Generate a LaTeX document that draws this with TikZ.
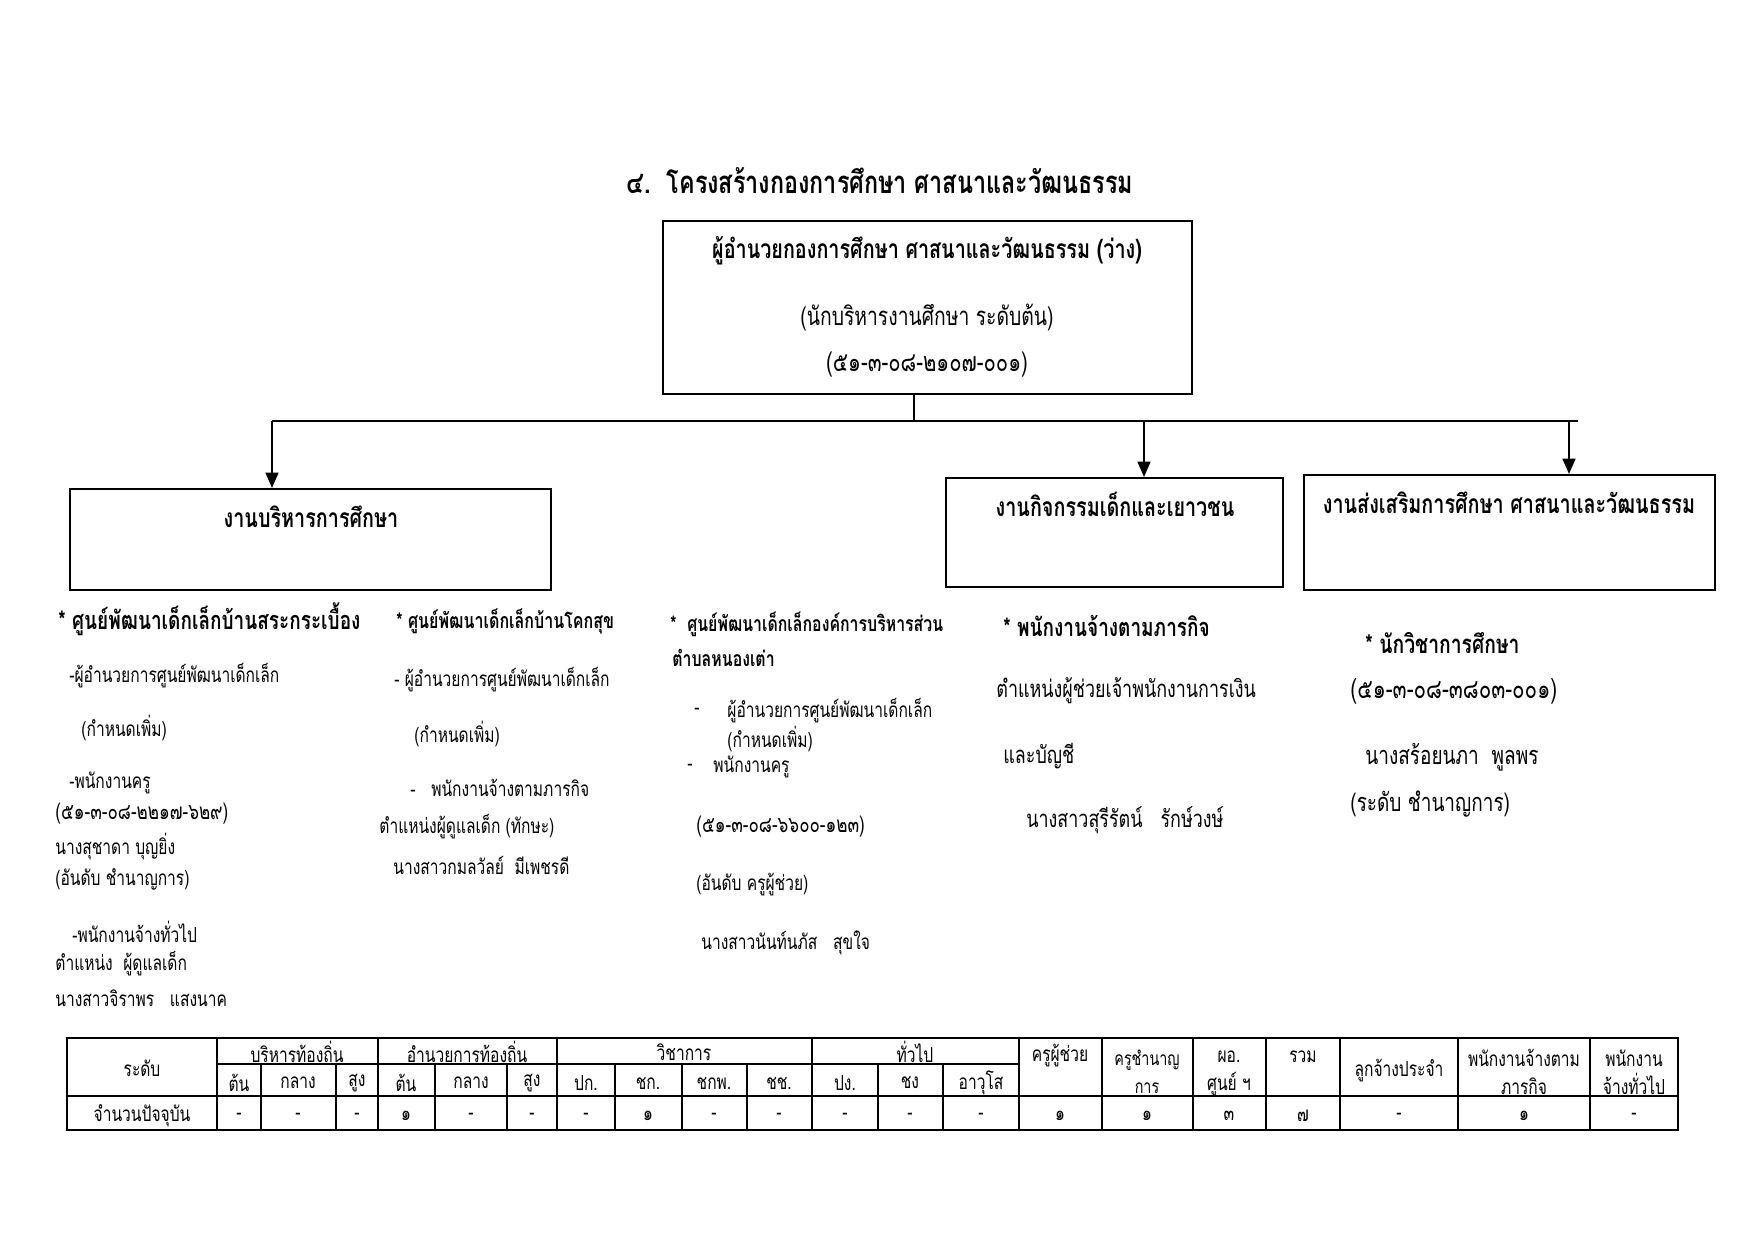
\documentclass[tikz,border=0pt]{standalone}
\usepackage{fontspec}
\setmainfont[Script=Thai,FakeStretch=0.75]{Loma}
\usetikzlibrary{arrows.meta,fit}

\newcommand\thsize[1]{\fontsize{#1}{1.2\dimexpr#1pt\relax}\selectfont}

\begin{document}
\begin{tikzpicture}[x=0.1693mm, y=-0.1693mm,
  arr/.style={-{Triangle[length=2.6mm,width=2.2mm]}, line width=0.75pt},
  link/.style={line width=0.75pt},
  unitbox/.style={draw, line width=1pt, inner sep=0pt},
  boxtxt/.style={inner sep=0pt, font=\thsize{12.4}},
  boxhead/.style={inner sep=0pt, font=\bfseries\thsize{12.7}},
  headtxt/.style={anchor=west, inner sep=0pt, font=\bfseries\thsize{12.2}},
  bodytxt/.style={anchor=west, inner sep=0pt, font=\thsize{10}},
  tbl/.style={line width=0.6pt},
  cell/.style={inner sep=0pt, align=center, font=\fontsize{10}{13.5}\selectfont},
  smallcell/.style={inner sep=0pt, align=center, font=\fontsize{9.2}{13.5}\selectfont}]

  \useasboundingbox[fill=white] (0,0) rectangle (1754,1240);

  % Title
  \node[inner sep=0pt, font=\bfseries\thsize{15}] (title) at (880,181)
    {๔.~~โครงสร้างกองการศึกษา ศาสนาและวัฒนธรรม};

  % Head of division
  \node[unitbox, fit={(663,221) (1192,394)}] (head) {};
  \node[boxhead] (headname) at (927,251) {ผู้อำนวยกองการศึกษา ศาสนาและวัฒนธรรม (ว่าง)};
  \node[boxtxt] (headpos) at (927,317) {(นักบริหารงานศึกษา ระดับต้น)};
  \node[boxtxt, font=\thsize{13}] (headno) at (927,365) {(๕๑-๓-๐๘-๒๑๐๗-๐๐๑)};

  % Sections
  \node[unitbox, fit={(70,489) (551,590)}] (admin) {};
  \node[unitbox, fit={(946,478) (1283,587)}] (youth) {};
  \node[unitbox, fit={(1304,475) (1715,590)}] (promo) {};
  \node[boxhead] (adminname) at (311,517) {งานบริหารการศึกษา};
  \node[boxhead] (youthname) at (1115,504) {งานกิจกรรมเด็กและเยาวชน};
  \node[boxhead] (promoname) at (1509,503) {งานส่งเสริมการศึกษา ศาสนาและวัฒนธรรม};

  % Connectors
  \coordinate (drop) at (914,421);
  \coordinate (busL) at (272,421);
  \coordinate (busM) at (1144,421);
  \coordinate (busS) at (1569,421);
  \coordinate (busR) at (1578,421);
  \draw[link] (drop |- head.south) -- (drop);
  \draw[link] (busL) -- (busR);
  \draw[arr] (busL) -- (busL |- admin.north);
  \draw[arr] (busM) -- (busM |- youth.north);
  \draw[arr] (busS) -- (busS |- promo.north);

  % Column 1
  \node[headtxt] (c1a) at (58,619) {* ศูนย์พัฒนาเด็กเล็กบ้านสระกระเบื้อง};
  \node[bodytxt] (c1b) at (69,676) {-ผู้อำนวยการศูนย์พัฒนาเด็กเล็ก};
  \node[bodytxt] (c1c) at (81,728) {(กำหนดเพิ่ม)};
  \node[bodytxt] (c1d) at (69,783) {-พนักงานครู};
  \node[bodytxt, font=\thsize{10.9}] (c1e) at (55,814) {(๕๑-๓-๐๘-๒๒๑๗-๖๒๙)};
  \node[bodytxt] (c1f) at (55,847) {นางสุชาดา บุญยิ่ง};
  \node[bodytxt] (c1g) at (55,879) {(อันดับ ชำนาญการ)};
  \node[bodytxt] (c1h) at (72,932) {-พนักงานจ้างทั่วไป};
  \node[bodytxt] (c1i) at (55,964) {ตำแหน่ง~~ผู้ดูแลเด็ก};
  \node[bodytxt] (c1j) at (55,998) {นางสาวจิราพร~~~แสงนาค};

  % Column 2
  \node[headtxt, font=\bfseries\thsize{10.3}] (c2a) at (396,621) {* ศูนย์พัฒนาเด็กเล็กบ้านโคกสุข};
  \node[bodytxt] (c2b) at (394,680) {- ผู้อำนวยการศูนย์พัฒนาเด็กเล็ก};
  \node[bodytxt] (c2c) at (414,734) {(กำหนดเพิ่ม)};
  \node[bodytxt] (c2d) at (410,788) {-~~~พนักงานจ้างตามภารกิจ};
  \node[bodytxt] (c2e) at (379,827) {ตำแหน่งผู้ดูแลเด็ก (ทักษะ)};
  \node[bodytxt] (c2f) at (393,865) {นางสาวกมลวัลย์~~มีเพชรดี};

  % Column 3
  \node[headtxt, font=\bfseries\thsize{10.2}] (c3a) at (670,624) {*~~ศูนย์พัฒนาเด็กเล็กองค์การบริหารส่วน};
  \node[headtxt, font=\bfseries\thsize{10.2}] (c3b) at (672,658) {ตำบลหนองเต่า};
  \node[bodytxt] (c3c) at (694,711) {-};
  \node[bodytxt] (c3d) at (727,711) {ผู้อำนวยการศูนย์พัฒนาเด็กเล็ก};
  \node[bodytxt] (c3e) at (727,739) {(กำหนดเพิ่ม)};
  \node[bodytxt] (c3f) at (687,767) {-};
  \node[bodytxt] (c3g) at (713,767) {พนักงานครู};
  \node[bodytxt, font=\thsize{10.9}] (c3h) at (696,827) {(๕๑-๓-๐๘-๖๖๐๐-๑๒๓)};
  \node[bodytxt] (c3i) at (696,885) {(อันดับ ครูผู้ช่วย)};
  \node[bodytxt] (c3j) at (701,943) {นางสาวนันท์นภัส~~~สุขใจ};

  % Column 4
  \node[headtxt] (c4a) at (1003,626) {* พนักงานจ้างตามภารกิจ};
  \node[bodytxt, font=\thsize{11.5}] (c4b) at (996,691) {ตำแหน่งผู้ช่วยเจ้าพนักงานการเงิน};
  \node[bodytxt, font=\thsize{11.5}] (c4c) at (1003,756) {และบัญชี};
  \node[bodytxt, font=\thsize{11.5}] (c4d) at (1026,820) {นางสาวสุรีรัตน์~~~รักษ์วงษ์};

  % Column 5
  \node[headtxt, font=\bfseries\thsize{12.4}] (c5a) at (1365,643) {* นักวิชาการศึกษา};
  \node[bodytxt, font=\thsize{13.2}] (c5b) at (1350,691) {(๕๑-๓-๐๘-๓๘๐๓-๐๐๑)};
  \node[bodytxt, font=\thsize{12.2}] (c5c) at (1365,757) {นางสร้อยนภา~~พูลพร};
  \node[bodytxt, font=\thsize{12.2}] (c5d) at (1350,804) {(ระดับ ชำนาญการ)};

  % Table grid
  \draw[tbl] (67,1038) rectangle (1678,1130);
  \draw[tbl] (67,1096) -- (1678,1096);
  \draw[tbl] (217,1064) -- (1019,1064);
  \foreach \x in {217,378,557,812,1019,1102,1193,1266,1340,1458,1590}
    \draw[tbl] (\x,1038) -- (\x,1130);
  \foreach \x in {261,336,435,507,615,682,747,878,943}
    \draw[tbl] (\x,1064) -- (\x,1130);

  % Table header
  \node[cell] (rank) at (142,1068) {ระดับ};
  \node[cell] (grp1) at (297,1052) {บริหารท้องถิ่น};
  \node[cell] (grp2) at (467,1052) {อำนวยการท้องถิ่น};
  \node[cell] (grp3) at (684,1052) {วิชาการ};
  \node[cell] (grp4) at (915,1052) {ทั่วไป};
  \foreach \x/\t [count=\i] in {239/ต้น, 298/กลาง, 357/สูง, 406/ต้น, 471/กลาง, 532/สูง,
      586/ปก., 648/ชก., 714/ชกพ., 779/ชช., 845/ปง., 910/ชง, 981/อาวุโส}
    \node[cell] (sub\i) at (\x,1083) {\t};
  \node[cell] (asst) at (1060,1056) {ครูผู้ช่วย};
  \node[smallcell] (expert) at (1147,1072) {ครูชำนาญ\\การ};
  \node[cell] (director) at (1229,1073) {ผอ.\\ศูนย์ ฯ};
  \node[cell] (total) at (1303,1057) {รวม};
  \node[cell] (perm) at (1399,1071) {ลูกจ้างประจำ};
  \node[cell] (mission) at (1524,1072) {พนักงานจ้างตาม\\ภารกิจ};
  \node[cell] (general) at (1634,1072) {พนักงาน\\จ้างทั่วไป};

  % Table data
  \node[cell] (count) at (142,1116) {จำนวนปัจจุบัน};
  \foreach \x/\t [count=\i] in {239/-, 298/-, 357/-, 406/๑, 471/-, 532/-,
      586/-, 648/๑, 714/-, 779/-, 845/-, 910/-, 981/-,
      1060/๑, 1147/๑, 1229/๓, 1303/๗, 1399/-, 1524/๑, 1634/-}
    \node[cell] (val\i) at (\x,1116) {\t};
\end{tikzpicture}
\end{document}
